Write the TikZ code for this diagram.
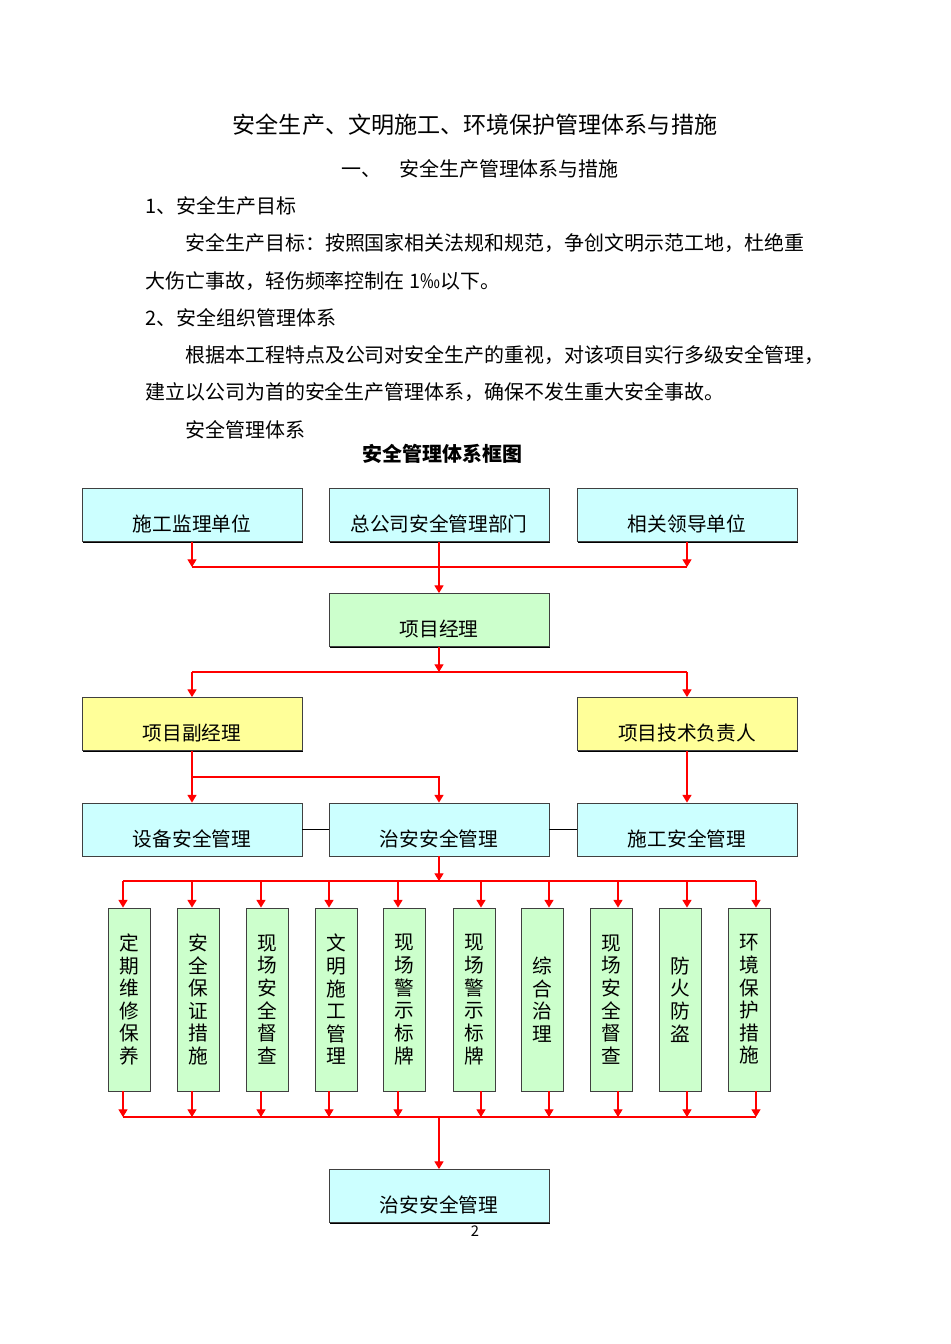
\documentclass[tikz,border=0pt]{standalone}
\usepackage{fontspec}
\setmainfont{Noto Sans CJK SC}
\usetikzlibrary{arrows.meta, shadows}
\definecolor{BoxCyan}{RGB}{204, 255, 255}
\definecolor{BoxGreen}{RGB}{204, 255, 204}
\definecolor{BoxYellow}{RGB}{255, 255, 153}
\definecolor{LineRed}{RGB}{255, 0, 0}

\tikzset{
  hbox/.style={draw=black!75, line width=0.6pt, minimum width=5.5cm, minimum height=1.325cm,
    inner xsep=0pt, inner ysep=0pt, text height=30.6pt, text depth=7.1pt,
    font=\fontsize{14}{16}\selectfont,
    drop shadow={shadow xshift=0.7pt, shadow yshift=-0.7pt, fill=black, opacity=1}},
  vbox/.style={draw=black!75, line width=0.6pt, fill=BoxGreen, minimum width=1.05cm,
    minimum height=4.575cm, inner sep=0pt, align=center,
    font=\fontsize{14}{16.1}\selectfont,
    drop shadow={shadow xshift=0.7pt, shadow yshift=-0.7pt, fill=black, opacity=1}},
  arr/.style={draw=LineRed, line width=0.9pt, -{Triangle[width=6.5pt, length=5.5pt]}},
  bus/.style={draw=LineRed, line width=0.9pt},
  body/.style={anchor=west, inner sep=0pt, font=\fontsize{14.2}{16}\selectfont},
}

\begin{document}
\begin{tikzpicture}[x=0.025cm, y=-0.025cm]
    \fill[white] (0,0) rectangle (950,1344);
    \useasboundingbox (0,0) rectangle (950,1344);

    % Page text
    \node[inner sep=0pt, font=\fontsize{16.4}{18}\selectfont] (title) at (475,125)
      {安全生产、文明施工、环境保护管理体系与措施};
    \node[body] (sec1) at (341,169) {一、\hspace{0.9em}安全生产管理体系与措施};
    \node[body] (p1) at (145,206) {1、安全生产目标};
    \node[body] (p2) at (185,243) {安全生产目标：按照国家相关法规和规范，争创文明示范工地，杜绝重};
    \node[body] (p3) at (145,281) {大伤亡事故，轻伤频率控制在 1‰以下。};
    \node[body] (p4) at (145,318) {2、安全组织管理体系};
    \node[body] (p5) at (185,355) {根据本工程特点及公司对安全生产的重视，对该项目实行多级安全管理，};
    \node[body] (p6) at (145,392) {建立以公司为首的安全生产管理体系，确保不发生重大安全事故。};
    \node[body] (p7) at (185,430) {安全管理体系};
    \node[inner sep=0pt, font=\fontsize{14.2}{16}\selectfont\bfseries] (frame) at (442.5,454)
      {安全管理体系框图};

    % Top rows
    \node[hbox, fill=BoxCyan] (jianli) at (192,515) {施工监理单位};
    \node[hbox, fill=BoxCyan] (zonggs) at (439,515) {总公司安全管理部门};
    \node[hbox, fill=BoxCyan] (lingdao) at (687,515) {相关领导单位};
    \node[hbox, fill=BoxGreen] (xmjl) at (439,620) {项目经理};
    \node[hbox, fill=BoxYellow] (fujl) at (192,724) {项目副经理};
    \node[hbox, fill=BoxYellow] (jishu) at (687,724) {项目技术负责人};
    \node[hbox, fill=BoxCyan] (shebei) at (192,829.5) {设备安全管理};
    \node[hbox, fill=BoxCyan] (zhian) at (439,829.5) {治安安全管理};
    \node[hbox, fill=BoxCyan] (shigong) at (687,829.5) {施工安全管理};
    \node[hbox, fill=BoxCyan] (zhianb) at (439,1196) {治安安全管理};

    \coordinate (bus1) at (439,567);
    \coordinate (bus2) at (439,672);
    \coordinate (bus3) at (192,777);
    \coordinate (bus4) at (439,881);
    \coordinate (bus5) at (439,1117);

    \draw[bus] (jianli.south |- bus1) -- (lingdao.south |- bus1);
    \draw[arr] (jianli.south) -- (jianli.south |- bus1);
    \draw[arr] (lingdao.south) -- (lingdao.south |- bus1);
    \draw[arr] (zonggs.south) -- (xmjl.north);

    \draw[arr] (xmjl.south) -- (bus2);
    \draw[bus] (fujl.north |- bus2) -- (jishu.north |- bus2);
    \draw[arr] (fujl.north |- bus2) -- (fujl.north);
    \draw[arr] (jishu.north |- bus2) -- (jishu.north);

    \draw[arr] (fujl.south) -- (shebei.north);
    \draw[arr] (bus3) -| (zhian.north);
    \draw[arr] (jishu.south) -- (shigong.north);
    \draw[line width=1.4pt] (shebei.east) -- (zhian.west);
    \draw[line width=1.4pt] (zhian.east) -- (shigong.west);

    \draw[arr] (zhian.south) -- (bus4);

    % Measures
    \foreach \i/\cx/\ax/\txt in {
      1/129.5/123/{定\\期\\维\\修\\保\\养},
      2/198/192/{安\\全\\保\\证\\措\\施},
      3/267.5/261/{现\\场\\安\\全\\督\\查},
      4/336.5/329/{文\\明\\施\\工\\管\\理},
      5/404.5/398/{现\\场\\警\\示\\标\\牌},
      6/474/481/{现\\场\\警\\示\\标\\牌},
      7/542.5/549/{综\\合\\治\\理},
      8/611.5/618/{现\\场\\安\\全\\督\\查},
      9/680.5/687/{防\\火\\防\\盗},
      10/749/756/{环\\境\\保\\护\\措\\施}}
    {
      \node[vbox] (v\i) at (\cx,999.5) {\txt};
      \coordinate (t\i) at (\ax,881);
      \coordinate (b\i) at (\ax,1117);
      \draw[arr] (t\i) -- (t\i |- v\i.north);
      \draw[arr] (b\i |- v\i.south) -- (b\i);
    }
    \draw[bus] (t1) -- (t10);
    \draw[bus] (b1) -- (b10);
    \draw[arr] (bus5) -- (zhianb.north);

    \node[inner sep=0pt, font=\fontsize{10.5}{12}\selectfont] (pageno) at (475,1231) {2};
\end{tikzpicture}
\end{document}
